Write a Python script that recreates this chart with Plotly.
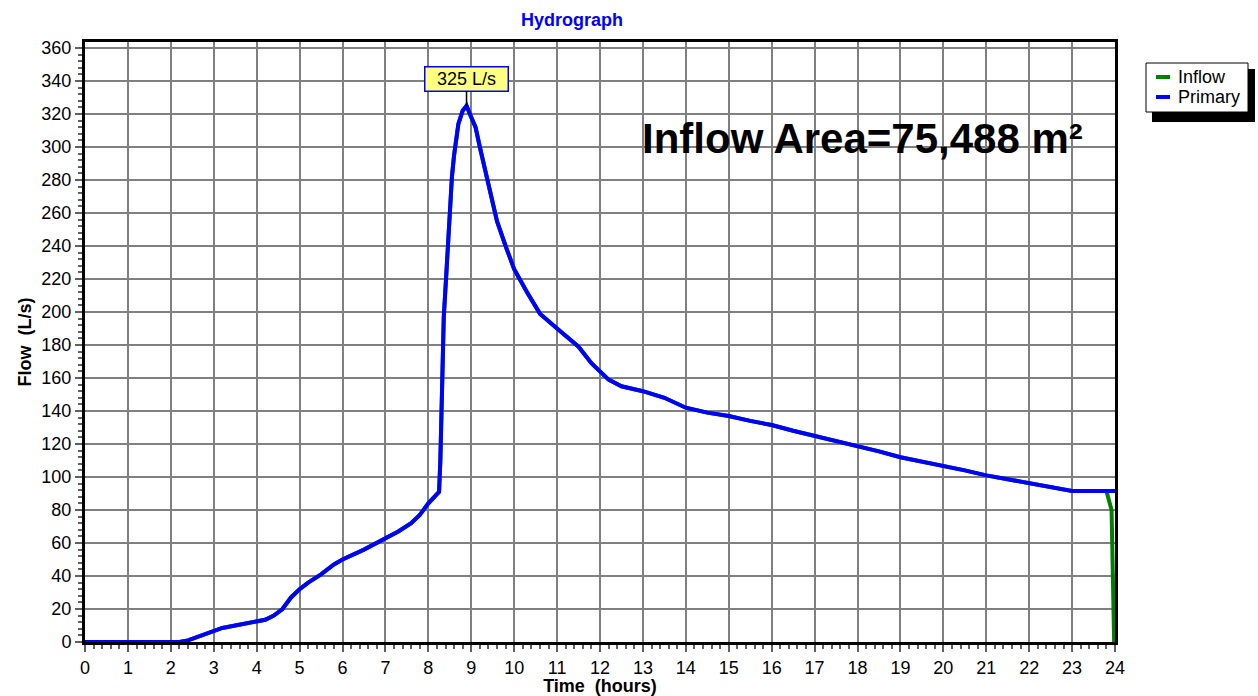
import plotly.graph_objects as go

# ---- data ----
time_primary = [0, 1, 2, 2.2, 2.4, 2.7, 3.0, 3.2, 3.5, 3.8, 4.0, 4.2, 4.4, 4.6, 4.8,
                5.0, 5.2, 5.5, 5.8, 6.0, 6.5, 7.0, 7.3, 7.6, 7.8, 8.0, 8.2, 8.25,
                8.28, 8.32, 8.36, 8.41, 8.47, 8.51, 8.55, 8.6, 8.64, 8.7, 8.8, 8.89,
                9.0, 9.1, 9.2, 9.4, 9.6, 9.8, 10.0, 10.3, 10.6, 11.0, 11.5, 11.8,
                12.0, 12.2, 12.5, 13.0, 13.5, 14.0, 14.5, 15.0, 15.5, 16.0, 16.5,
                17.0, 17.5, 18.0, 18.5, 19.0, 19.5, 20.0, 20.5, 21.0, 21.5, 22.0,
                22.5, 23.0, 23.5, 23.8, 24.0]
flow_primary = [0, 0, 0, 0, 1, 4, 7, 8.5, 10, 11.5, 12.3, 13.5, 16, 20, 27,
                32, 36, 41, 47, 50, 56, 63, 67, 72, 77, 84, 89, 91,
                110, 150, 197, 219, 250, 268, 282, 295, 304, 314, 322, 325,
                318, 312, 300, 278, 255, 240, 226, 212, 199, 190, 179, 169,
                164, 159, 155, 152, 148, 142, 139, 137, 134, 131.5, 128,
                125, 122, 119, 115.5, 112, 109.5, 107, 104, 101, 98.5, 96,
                93.5, 91.5, 91.5, 91.5, 91.5]

time_inflow = time_primary[:-1] + [23.92, 23.98]
flow_inflow = flow_primary[:-1] + [80, 0]

series_names = ["Inflow", "Primary"]
series_colors = ["#008000", "#0000FF"]

peak_time = 8.89
peak_flow = 325
peak_label = "325 L/s"
area_label = "Inflow Area=75,488 m²"

L, R, T, B = 85, 143, 42, 54
W, H = 1258, 696
PW, PH = W - L - R, H - T - B
YMAX = PH / 1.65


def px_x(p):
    return (p - L) / PW


def px_y(p):
    return (H - B - p) / PH


fig = go.Figure()
fig.add_trace(go.Scatter(x=time_inflow, y=flow_inflow, mode="lines", name=series_names[0],
                         line=dict(color=series_colors[0], width=4)))
fig.add_trace(go.Scatter(x=time_primary, y=flow_primary, mode="lines", name=series_names[1],
                         line=dict(color=series_colors[1], width=4)))

fig.add_annotation(x=peak_time, y=peak_flow, text=peak_label, showarrow=True,
                   arrowhead=0, arrowwidth=1.5, arrowcolor="black", ax=0, ay=-27,
                   width=80, height=21,
                   bgcolor="#FFFF80", bordercolor="#0000FF", borderwidth=1.5, borderpad=1,
                   font=dict(family="Arial", size=18, color="black"))

fig.add_annotation(x=px_x(862), y=px_y(139), xref="paper", yref="paper",
                   text="<b>" + area_label + "</b>", showarrow=False,
                   font=dict(family="Arial", size=42, color="black"),
                   xanchor="center", yanchor="middle")

# ---- custom legend box with shadow ----
fig.add_shape(type="rect", xref="paper", yref="paper",
              x0=px_x(1152), x1=px_x(1255), y0=px_y(122), y1=px_y(69),
              fillcolor="black", line=dict(width=0), layer="above")
fig.add_shape(type="rect", xref="paper", yref="paper",
              x0=px_x(1146), x1=px_x(1248), y0=px_y(112), y1=px_y(63),
              fillcolor="white", line=dict(color="black", width=1), layer="above")
for i, (nm, col) in enumerate(zip(series_names, series_colors)):
    yy = 77 + 20 * i
    fig.add_shape(type="line", xref="paper", yref="paper",
                  x0=px_x(1156), x1=px_x(1170), y0=px_y(yy), y1=px_y(yy),
                  line=dict(color=col, width=4), layer="above")
    fig.add_annotation(x=px_x(1176), y=px_y(yy), xref="paper", yref="paper",
                       text=nm, showarrow=False, xanchor="left", yanchor="middle",
                       font=dict(family="Arial", size=18, color="black"))

axis_common = dict(showline=True, linecolor="black", linewidth=3, mirror=True,
                   showgrid=True, gridcolor="#808080", gridwidth=2,
                   ticks="outside", ticklen=7, tickcolor="#606060", tickwidth=1.5,
                   tickfont=dict(family="Arial", size=18, color="black"),
                   zeroline=False, automargin=False)

fig.update_layout(
    width=W, height=H,
    margin=dict(l=L, r=R, t=T, b=B),
    plot_bgcolor="white", paper_bgcolor="white",
    showlegend=False,
    title=dict(text="<b>Hydrograph</b>", x=572 / W, xanchor="center", y=1 - 20 / H,
               yanchor="middle",
               font=dict(family="Arial", size=18, color="#0000FF")),
    xaxis=dict(range=[0, 24], dtick=1, tick0=0,
               title=dict(text="<b>Time&nbsp;&nbsp;(hours)</b>", standoff=3,
                          font=dict(family="Arial", size=18, color="black")),
               minor=dict(dtick=0.2, ticks="outside", ticklen=4, tickcolor="#606060",
                          showgrid=False),
               **axis_common),
    yaxis=dict(range=[0, YMAX], dtick=20, tick0=0,
               title=dict(text="<b>Flow&nbsp;&nbsp;(L/s)</b>", standoff=6,
                          font=dict(family="Arial", size=18, color="black")),
               minor=dict(dtick=4, ticks="outside", ticklen=4, tickcolor="#606060",
                          showgrid=False),
               **axis_common),
)

fig.write_html("out.html")
